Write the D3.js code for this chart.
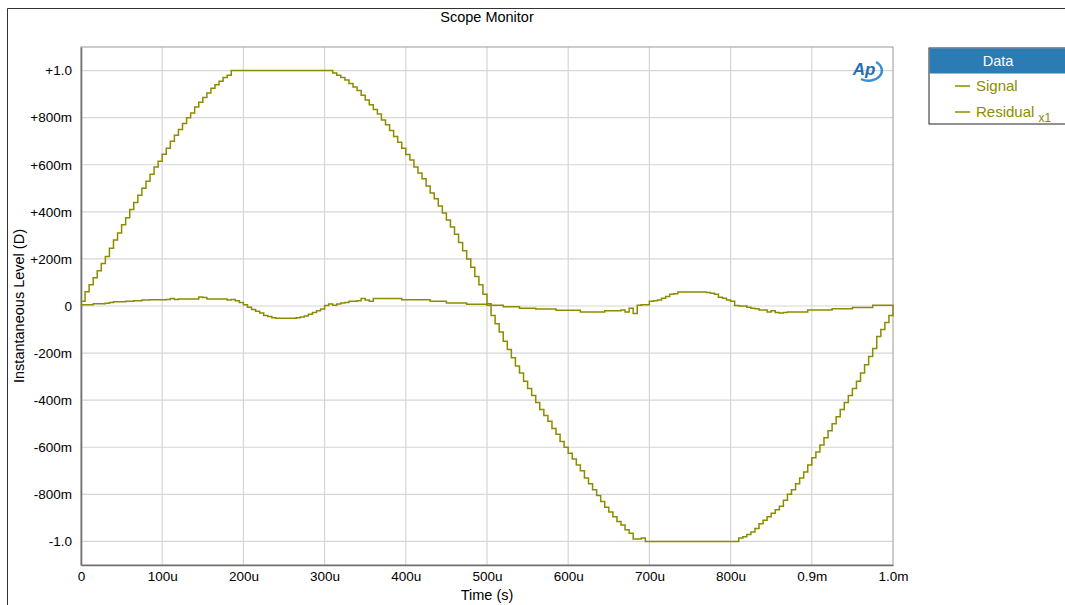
<!DOCTYPE html>
<html>
<head>
<meta charset="utf-8">
<script src="https://cdn.jsdelivr.net/npm/d3@7"></script>
<style>
  body { margin: 0; background: #fff; }
  svg { font-family: "Liberation Sans", Arial, sans-serif; }
</style>
</head>
<body>
<svg></svg>
<script>
var width = 1065;
var height = 605;

// sample spacing of both traces (seconds)
var sampleStep = 5e-6;

// Signal, one value per 5us, 0 .. 1.0ms
var signal = [
  0.02, 0.06, 0.09, 0.12, 0.15, 0.18, 0.21, 0.245, 0.28, 0.31,
  0.345, 0.375, 0.41, 0.44, 0.47, 0.50, 0.53, 0.56, 0.59, 0.615,
  0.645, 0.67, 0.70, 0.725, 0.75, 0.775, 0.80, 0.82, 0.845, 0.865,
  0.885, 0.905, 0.925, 0.94, 0.955, 0.97, 0.98, 1.0, 1.0, 1.0,
  1.0, 1.0, 1.0, 1.0, 1.0, 1.0, 1.0, 1.0, 1.0, 1.0,
  1.0, 1.0, 1.0, 1.0, 1.0, 1.0, 1.0, 1.0, 1.0, 1.0,
  1.0, 1.0, 0.99, 0.98, 0.97, 0.96, 0.945, 0.93, 0.915, 0.895,
  0.875, 0.855, 0.835, 0.815, 0.79, 0.77, 0.745, 0.72, 0.695, 0.67,
  0.643, 0.62, 0.59, 0.565, 0.54, 0.51, 0.48, 0.455, 0.425, 0.395,
  0.365, 0.335, 0.305, 0.27, 0.235, 0.20, 0.165, 0.125, 0.09, 0.05,
  0.01, -0.04, -0.075, -0.11, -0.15, -0.185, -0.22, -0.255, -0.285, -0.32,
  -0.35, -0.38, -0.41, -0.44, -0.465, -0.49, -0.52, -0.545, -0.575, -0.60,
  -0.625, -0.65, -0.675, -0.70, -0.73, -0.755, -0.78, -0.805, -0.83, -0.855,
  -0.875, -0.895, -0.915, -0.93, -0.95, -0.965, -0.99, -0.99, -0.985, -1.0,
  -1.0, -1.0, -1.0, -1.0, -1.0, -1.0, -1.0, -1.0, -1.0, -1.0,
  -1.0, -1.0, -1.0, -1.0, -1.0, -1.0, -1.0, -1.0, -1.0, -1.0,
  -1.0, -1.0, -0.985, -0.98, -0.97, -0.96, -0.945, -0.925, -0.91, -0.895,
  -0.88, -0.865, -0.85, -0.825, -0.80, -0.78, -0.755, -0.73, -0.705, -0.675,
  -0.645, -0.62, -0.59, -0.56, -0.53, -0.50, -0.47, -0.44, -0.41, -0.38,
  -0.35, -0.32, -0.285, -0.25, -0.215, -0.18, -0.13, -0.10, -0.07, -0.04,
  0.0
];

// Residual x1, same sampling
var residual = [
  0.005, 0.005, 0.005, 0.01, 0.01, 0.01, 0.012, 0.015, 0.018, 0.018,
  0.018, 0.02, 0.02, 0.022, 0.022, 0.025, 0.025, 0.027, 0.027, 0.027,
  0.027, 0.028, 0.032, 0.028, 0.03, 0.03, 0.03, 0.03, 0.03, 0.038,
  0.036, 0.03, 0.03, 0.03, 0.03, 0.03, 0.025, 0.028, 0.022, 0.015,
  0.005, -0.005, -0.015, -0.022, -0.03, -0.04, -0.045, -0.05, -0.052, -0.052,
  -0.052, -0.052, -0.052, -0.05, -0.047, -0.042, -0.035, -0.028, -0.02, -0.013,
  0.002, 0.008, 0.003, 0.008, 0.013, 0.015, 0.02, 0.02, 0.022, 0.032,
  0.025, 0.02, 0.032, 0.032, 0.032, 0.032, 0.032, 0.032, 0.032, 0.027,
  0.027, 0.027, 0.027, 0.027, 0.027, 0.027, 0.02, 0.02, 0.02, 0.02,
  0.013, 0.013, 0.013, 0.013, 0.013, 0.007, 0.007, 0.007, 0.007, 0.007,
  0.003, 0.003, 0.003, 0.003, -0.003, -0.003, -0.003, -0.003, -0.01, -0.01,
  -0.01, -0.01, -0.013, -0.013, -0.013, -0.013, -0.013, -0.018, -0.018, -0.018,
  -0.018, -0.018, -0.018, -0.025, -0.025, -0.025, -0.025, -0.025, -0.025, -0.02,
  -0.02, -0.02, -0.02, -0.017, -0.025, -0.01, -0.032, 0.003, 0.005, 0.005,
  0.02, 0.022, 0.025, 0.033, 0.04, 0.05, 0.052, 0.059, 0.059, 0.059,
  0.059, 0.059, 0.059, 0.059, 0.057, 0.054, 0.05, 0.037, 0.033, 0.025,
  0.02, 0.002, 0, 0, -0.005, -0.01, -0.012, -0.017, -0.017, -0.025,
  -0.02, -0.028, -0.03, -0.028, -0.025, -0.025, -0.025, -0.025, -0.025, -0.017,
  -0.017, -0.017, -0.017, -0.017, -0.017, -0.012, -0.012, -0.012, -0.012, -0.012,
  -0.006, -0.006, -0.006, -0.006, -0.006, 0.003, 0.003, 0.003, 0.003, 0.003,
  0.0
];

var xTicks = [0, 100e-6, 200e-6, 300e-6, 400e-6, 500e-6, 600e-6, 700e-6, 800e-6, 900e-6, 1e-3];
var xTickLabels = ["0", "100u", "200u", "300u", "400u", "500u", "600u", "700u", "800u", "0.9m", "1.0m"];
var yTicks = [1.0, 0.8, 0.6, 0.4, 0.2, 0, -0.2, -0.4, -0.6, -0.8, -1.0];
var yTickLabels = ["+1.0", "+800m", "+600m", "+400m", "+200m", "0", "-200m", "-400m", "-600m", "-800m", "-1.0"];

var seriesNames = ["Signal", "Residual"];
var lineColor = "#8c8c00";

var plot = {left: 81, right: 893, top: 47, bottom: 565};

var svg = d3.select("svg")
    .attr("width", width)
    .attr("height", height);

// outer frame
svg.append("path")
    .attr("d", "M7.5," + height + "V8.5H" + width)
    .attr("fill", "none")
    .attr("stroke", "#333")
    .attr("stroke-width", 1);

svg.append("text")
    .attr("x", 487)
    .attr("y", 22)
    .attr("text-anchor", "middle")
    .style("font-size", "14.5px")
    .text("Scope Monitor");

var x = d3.scaleLinear().domain([0, 1e-3]).range([plot.left, plot.right]);
var y = d3.scaleLinear().domain([-1.1, 1.1]).range([plot.bottom, plot.top]);

// grid
svg.append("g").selectAll("line")
    .data(xTicks.slice(1, -1))
    .enter().append("line")
    .attr("x1", d => x(d)).attr("x2", d => x(d))
    .attr("y1", plot.top).attr("y2", plot.bottom)
    .attr("stroke", "#d6d6d6").attr("stroke-width", 1.2);

svg.append("g").selectAll("line")
    .data(yTicks)
    .enter().append("line")
    .attr("x1", plot.left).attr("x2", plot.right)
    .attr("y1", d => y(d)).attr("y2", d => y(d))
    .attr("stroke", "#d6d6d6").attr("stroke-width", 1.2);

// plot border
svg.append("rect")
    .attr("x", plot.left).attr("y", plot.top)
    .attr("width", plot.right - plot.left)
    .attr("height", plot.bottom - plot.top)
    .attr("fill", "none")
    .attr("stroke", "#9a9a9a");

// axes
var xAxis = d3.axisBottom(x)
    .tickValues(xTicks)
    .tickSize(0)
    .tickPadding(6)
    .tickFormat((d, i) => xTickLabels[i]);

var yAxis = d3.axisLeft(y)
    .tickValues(yTicks)
    .tickSize(0)
    .tickPadding(9)
    .tickFormat((d, i) => yTickLabels[i]);

var gx = svg.append("g")
    .attr("transform", "translate(0," + plot.bottom + ")")
    .call(xAxis);
var gy = svg.append("g")
    .attr("transform", "translate(" + plot.left + ",0)")
    .call(yAxis);

[gx, gy].forEach(g => {
    g.select(".domain").attr("stroke", "#707070").attr("stroke-width", 1.6);
    g.selectAll("text")
        .style("font-size", "13.5px")
        .style("font-family", "'Liberation Sans', Arial, sans-serif")
        .attr("fill", "#000");
});

svg.append("text")
    .attr("x", 487)
    .attr("y", 600)
    .attr("text-anchor", "middle")
    .style("font-size", "14.5px")
    .text("Time (s)");

svg.append("text")
    .attr("transform", "translate(24," + y(0) + ") rotate(-90)")
    .attr("text-anchor", "middle")
    .style("font-size", "14.5px")
    .text("Instantaneous Level (D)");

// traces
var line = d3.line()
    .x((d, i) => x(i * sampleStep))
    .y(d => y(d))
    .curve(d3.curveStepAfter);

var traces = svg.append("g");
[signal, residual].forEach(s => {
    traces.append("path")
        .datum(s)
        .attr("d", line)
        .attr("fill", "none")
        .attr("stroke", lineColor)
        .attr("stroke-width", 1.5);
});

// AP logo
var logo = svg.append("g").attr("transform", "translate(865,70)");
logo.append("path")
    .attr("d", "M-4,9 A13,10 0 0 0 11,-8")
    .attr("fill", "none")
    .attr("stroke", "#3a8fd0")
    .attr("stroke-width", 2.5);
logo.append("text")
    .attr("x", -1)
    .attr("y", 5)
    .attr("text-anchor", "middle")
    .style("font-size", "17px")
    .style("font-weight", "bold")
    .style("font-style", "italic")
    .attr("fill", "#1f6fb8")
    .text("Ap");

// legend
var legend = svg.append("g").attr("transform", "translate(929,48)");
legend.append("rect")
    .attr("x", 0).attr("y", 0)
    .attr("width", 140).attr("height", 76)
    .attr("fill", "#fff")
    .attr("stroke", "#222");
legend.append("rect")
    .attr("x", 0.5).attr("y", 0.5)
    .attr("width", 140).attr("height", 25)
    .attr("fill", "#2b7bb4");
legend.append("text")
    .attr("x", 69).attr("y", 18)
    .attr("text-anchor", "middle")
    .attr("fill", "#fff")
    .style("font-size", "14.5px")
    .text("Data");

var items = legend.selectAll("g.item")
    .data(seriesNames)
    .enter().append("g")
    .attr("class", "item")
    .attr("transform", (d, i) => "translate(0," + (38 + i * 26) + ")");

items.append("line")
    .attr("x1", 26).attr("x2", 41)
    .attr("y1", 0).attr("y2", 0)
    .attr("stroke", lineColor)
    .attr("stroke-width", 1.5);

var labels = items.append("text")
    .attr("x", 47).attr("y", 5)
    .attr("fill", lineColor)
    .style("font-size", "15px")
    .text(d => d);

labels.filter(d => d == "Residual")
    .append("tspan")
    .attr("dx", 4).attr("dy", 5)
    .style("font-size", "12px")
    .text("x1");
</script>
</body>
</html>
